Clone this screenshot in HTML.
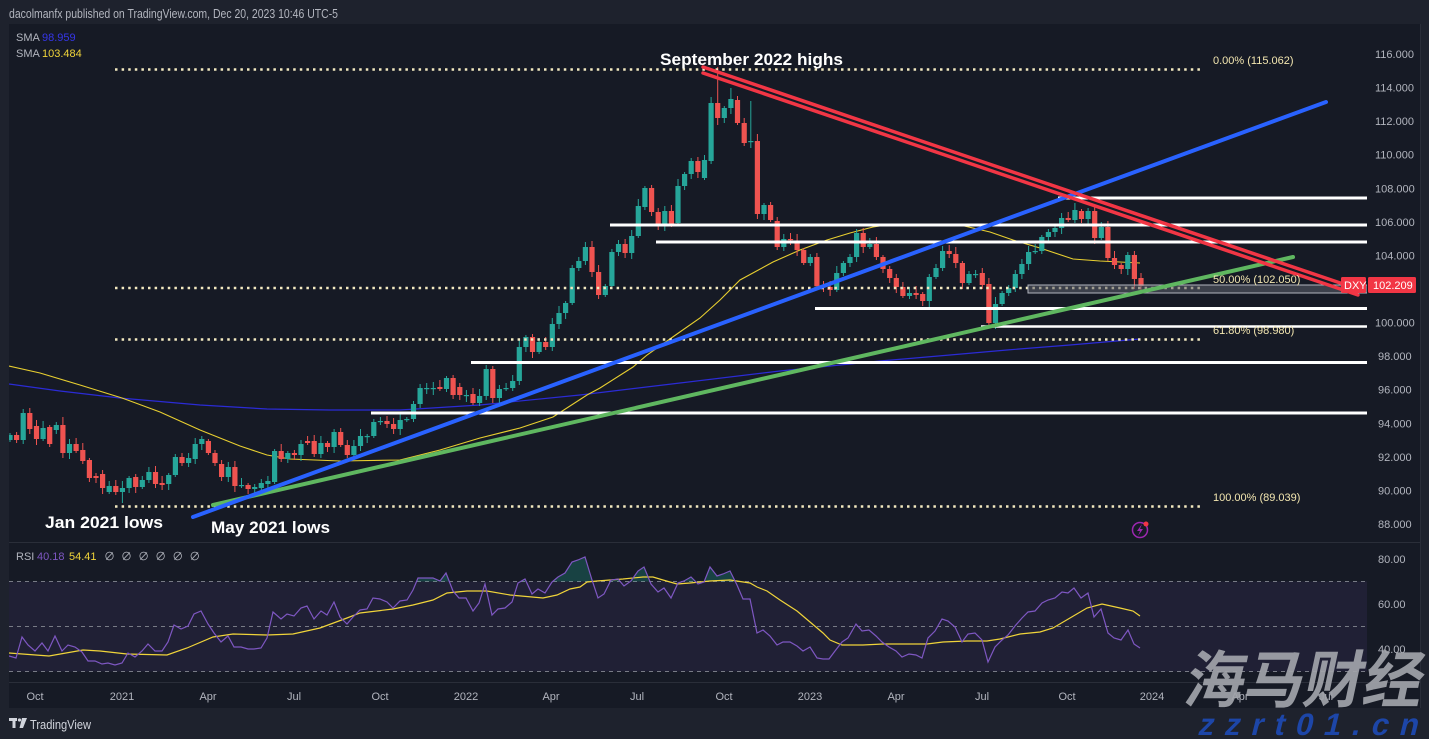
<!DOCTYPE html>
<html><head><meta charset="utf-8"><style>
html,body{margin:0;padding:0;background:#1e222d;width:1429px;height:739px;overflow:hidden}
svg{display:block}
text{font-family:"Liberation Sans","Noto Sans CJK SC",sans-serif}
</style></head><body>
<svg id="s" width="1429" height="739" viewBox="0 0 1429 739" xmlns="http://www.w3.org/2000/svg">
<defs>
<clipPath id="cm"><rect x="9" y="24" width="1358" height="518"/></clipPath>
<clipPath id="cr"><rect x="9" y="543" width="1358" height="139"/></clipPath>
<clipPath id="c70"><rect x="9" y="543" width="1358" height="38.5"/></clipPath>
</defs>
<rect x="0" y="0" width="1429" height="739" fill="#1e222d"/>
<text x="9" y="18" font-size="13" fill="#b2b5be" textLength="329" lengthAdjust="spacingAndGlyphs">dacolmanfx published on TradingView.com, Dec 20, 2023 10:46 UTC-5</text>
<rect x="9" y="24" width="1411" height="684" fill="#161a25"/>
<line x1="9" y1="542.5" x2="1420" y2="542.5" stroke="#2a2e39" stroke-width="1"/>
<line x1="9" y1="682.5" x2="1420" y2="682.5" stroke="#2a2e39" stroke-width="1"/>
<line x1="1420.5" y1="24" x2="1420.5" y2="708" stroke="#2a2e39" stroke-width="1"/>

<!-- RSI pane -->
<rect x="9" y="581.5" width="1358" height="90" fill="#7e57c2" fill-opacity="0.1"/>
<g stroke="#787b86" stroke-width="1" stroke-dasharray="4 4" fill="none">
<line x1="9" y1="581.5" x2="1367" y2="581.5"/>
<line x1="9" y1="626.5" x2="1367" y2="626.5"/>
<line x1="9" y1="671.5" x2="1367" y2="671.5"/>
</g>
<g clip-path="url(#cr)">
<polygon id="rsifill" clip-path="url(#c70)" fill="#22ab94" fill-opacity="0.28" points=""/>
<polyline fill="none" stroke="#f0d43a" stroke-width="1.2" points="9,653 49,656 83,650 100,651 127,654 167,655 187,648 213,637 233,634 267,635 293,634 320,628 347,618 360,613 393,609 413,605 433,600 447,593 467,591 487,591 510,595 543,598 557,595 570,589 580,587 587,582 597,581 623,579 643,577 653,577 663,580 677,584 690,583 710,581 730,580 750,583 757,587 767,591 780,600 797,611 810,622 823,633 830,640 842,645 863,645 883,644 903,644 927,644 943,642 967,641 987,641 1000,639 1020,634 1040,632 1053,628 1070,618 1087,608 1102,604 1120,608 1133,611 1140,616"/>
<polyline id="rsi" fill="none" stroke="#7e57c2" stroke-width="1.2" points="9,656 16,658 22,637 28,645 35,651 42,643 48,651 55,636 62,651 68,645 75,647 82,652 88,661 95,661 102,664 108,663 115,665 122,663 128,653 135,657 142,651 148,644 155,651 162,651 168,642 174,625 181,629 188,626 194,614 201,611 208,624 214,633 221,642 228,636 234,647 241,647 248,649 254,649 261,648 267,638 273,612 281,619 287,614 294,616 301,608 307,606 314,619 321,611 327,615 334,602 340,617 347,624 353,617 360,610 367,609 373,598 380,599 387,602 393,608 400,601 407,600 413,590 418,578 426,578 433,578 440,581 446,573 453,591 459,598 466,598 473,611 479,603 485,584 492,615 498,609 505,608 512,602 518,583 525,579 532,594 538,589 545,593 552,582 558,577 565,573 572,562 578,560 585,557 592,580 598,598 604,594 611,580 618,579 624,586 631,581 638,571 644,567 651,584 658,592 664,588 671,598 678,583 684,581 691,577 698,584 704,582 710,567 717,576 723,574 730,571 737,585 743,599 750,599 757,633 763,630 770,636 777,645 783,642 790,642 797,646 803,651 810,647 817,658 823,659 829,659 835,651 842,642 848,638 856,624 862,631 869,630 876,636 882,642 889,647 896,651 902,657 909,654 916,655 922,658 928,638 935,631 942,619 948,621 955,627 962,642 968,634 975,633 982,640 988,662 995,647 1002,640 1008,635 1015,626 1022,618 1028,612 1035,611 1042,603 1048,600 1055,598 1062,592 1068,593 1074,588 1081,598 1088,593 1094,617 1101,609 1108,633 1114,638 1121,640 1128,630 1134,644 1140,648"/>
</g>
<text x="16" y="560" font-size="11" fill="#b2b5be">RSI</text>
<text x="37" y="560" font-size="11" fill="#7e57c2">40.18</text>
<text x="69" y="560" font-size="11" fill="#f0d43a">54.41</text>
<text x="104" y="560" font-size="11" fill="#b2b5be" word-spacing="3">∅ ∅ ∅ ∅ ∅ ∅</text>

<!-- main pane -->
<g clip-path="url(#cm)">
<polyline fill="none" stroke="#2b2bd6" stroke-width="1.2" points="9,384 60,391 120,398 200,405 267,409 330,410 400,410 480,405 580,395 680,383 780,371 880,361 950,355 1007,350 1070,345 1140,339"/>
<polyline fill="none" stroke="#e8cf30" stroke-width="1.1" points="9,366 40,373 80,385 122,398 160,412 200,430 240,446 267,455 290,459 340,461 400,460 440,450 480,438 520,428 553,417 587,395 600,388 633,367 647,355 677,334 700,318 720,300 740,280 773,262 800,250 827,240 850,233 873,227 893,224 920,224 940,224 960,225 990,232 1013,240 1040,248 1073,259 1100,261 1140,263"/>
<g id="candles"></g>
<!-- fib dotted -->
<g stroke="#f3e9c0" stroke-width="2.5" stroke-dasharray="2.5 4.1" fill="none">
<line x1="115" y1="69.5" x2="1202" y2="69.5"/>
<line x1="115" y1="288" x2="1202" y2="288"/>
<line x1="115" y1="339.5" x2="1202" y2="339.5"/>
<line x1="115" y1="506.5" x2="1202" y2="506.5"/>
</g>
<!-- grey box -->
<rect x="1028" y="285" width="339" height="8" fill="#5d606b" fill-opacity="0.55" stroke="#b2b5be" stroke-width="1"/>
<!-- white horizontal -->
<g stroke="#ffffff" stroke-width="3">
<line x1="1058" y1="198" x2="1367" y2="198"/>
<line x1="610" y1="225" x2="1367" y2="225"/>
<line x1="656" y1="242" x2="1367" y2="242"/>
<line x1="815" y1="308.5" x2="1367" y2="308.5"/>
<line x1="981" y1="326.5" x2="1367" y2="326.5" stroke-width="2.5"/>
<line x1="471" y1="362.5" x2="1367" y2="362.5"/>
<line x1="371" y1="413" x2="1367" y2="413"/>
</g>
<!-- trendlines -->
<line x1="213" y1="505" x2="1293" y2="257" stroke="#5fb760" stroke-width="4" stroke-linecap="round"/>
<line x1="193" y1="517" x2="1326" y2="102" stroke="#2962ff" stroke-width="4" stroke-linecap="round"/>
<line x1="703" y1="67" x2="1358" y2="289" stroke="#f23645" stroke-width="3.5" stroke-linecap="round"/>
<line x1="703" y1="73" x2="1358" y2="295" stroke="#f23645" stroke-width="3.5" stroke-linecap="round"/>
</g>

<!-- fib labels -->
<g font-size="11" fill="#f3e6b0">
<text x="1213" y="64">0.00% (115.062)</text>
<text x="1213" y="283">50.00% (102.050)</text>
<text x="1213" y="334">61.80% (98.980)</text>
<text x="1213" y="501">100.00% (89.039)</text>
</g>

<!-- annotations -->
<g font-size="17" font-weight="bold" fill="#ffffff">
<text x="660" y="65" textLength="183" lengthAdjust="spacingAndGlyphs">September 2022 highs</text>
<text x="45" y="528" textLength="118" lengthAdjust="spacingAndGlyphs">Jan 2021 lows</text>
<text x="211" y="533" textLength="119" lengthAdjust="spacingAndGlyphs">May 2021 lows</text>
</g>

<!-- legend -->
<text x="16" y="41" font-size="11" fill="#b2b5be">SMA</text>
<text x="42" y="41" font-size="11" fill="#3636e8">98.959</text>
<text x="16" y="57" font-size="11" fill="#b2b5be">SMA</text>
<text x="42" y="57" font-size="11" fill="#f0d43a">103.484</text>

<!-- price axis -->
<g font-size="11" fill="#b2b5be">
<text x="1375" y="58">116.000</text>
<text x="1375" y="91.6">114.000</text>
<text x="1375" y="125.1">112.000</text>
<text x="1375" y="158.7">110.000</text>
<text x="1375" y="192.3">108.000</text>
<text x="1375" y="225.9">106.000</text>
<text x="1375" y="259.4">104.000</text>
<text x="1375" y="326.6">100.000</text>
<text x="1378" y="360.1">98.000</text>
<text x="1378" y="393.7">96.000</text>
<text x="1378" y="427.3">94.000</text>
<text x="1378" y="460.9">92.000</text>
<text x="1378" y="494.4">90.000</text>
<text x="1378" y="528">88.000</text>
<text x="1378" y="563">80.00</text>
<text x="1378" y="608">60.00</text>
<text x="1378" y="653">40.00</text>
</g>
<rect x="1341" y="277" width="25" height="16" rx="1.5" fill="#f23645"/>
<text x="1344" y="289" font-size="11" fill="#ffffff">DXY</text>
<rect x="1368" y="277" width="48" height="16" rx="1.5" fill="#f23645"/>
<text x="1373" y="289" font-size="11" fill="#ffffff">102.209</text>

<!-- lightning icon -->
<circle cx="1140" cy="530" r="7.5" fill="none" stroke="#9c27b0" stroke-width="1.5"/>
<path d="M1142 524 L1137 531 L1140 531 L1138 536 L1143 529 L1140 529 Z" fill="#9c27b0"/>
<circle cx="1146" cy="524" r="2.5" fill="#f23645"/>

<!-- time axis -->
<g font-size="11" fill="#b2b5be" text-anchor="middle">
<text x="35" y="700">Oct</text>
<text x="122" y="700">2021</text>
<text x="208" y="700">Apr</text>
<text x="294" y="700">Jul</text>
<text x="380" y="700">Oct</text>
<text x="466" y="700">2022</text>
<text x="551" y="700">Apr</text>
<text x="637" y="700">Jul</text>
<text x="724" y="700">Oct</text>
<text x="810" y="700">2023</text>
<text x="896" y="700">Apr</text>
<text x="982" y="700">Jul</text>
<text x="1067" y="700">Oct</text>
<text x="1152" y="700">2024</text>
<text x="1240" y="700">Apr</text>
<text x="1326" y="700">Jul</text>
</g>

<!-- footer logo -->
<rect x="9" y="718" width="8" height="3" fill="#d1d4dc"/>
<rect x="12.5" y="718" width="3" height="10" fill="#d1d4dc"/>
<circle cx="19.5" cy="720" r="1.6" fill="#d1d4dc"/>
<polygon points="22,718 27,718 23,728 19.5,728" fill="#d1d4dc"/>
<text x="30" y="729" font-size="13" fill="#d1d4dc" textLength="61" lengthAdjust="spacingAndGlyphs">TradingView</text>

<!-- watermark -->
<g transform="translate(1182,702) skewX(-12)">
<text x="0" y="0" font-size="62" font-weight="bold" fill="#a2a4aa" fill-opacity="0.92" textLength="238" lengthAdjust="spacingAndGlyphs" style="font-family:'Noto Sans CJK SC','WenQuanYi Zen Hei',sans-serif">海马财经</text>
</g>
<g transform="translate(1197,735) skewX(-14)">
<text x="0" y="0" font-size="31" font-weight="bold" fill="#1d46a8" textLength="220" lengthAdjust="spacing">zzrt01.cn</text>
</g>
</svg>
<script>
(function(){
var D=[[440,435],[435,440],[440,413],[413,429],[426,439],[439,428],[427,444],[430,425],[425,453],[453,444],
[444,451],[450,461],[460,478],[476,478],[474,488],[492,486],[486,492],[492,488],[488,478],[477,487],
[487,480],[480,472],[472,484],[483,485],[484,475],[475,457],[457,463],[463,458],[459,444],[444,439],
[441,453],[453,463],[464,477],[477,467],[467,486],[486,485],[485,489],[489,487],[488,483],[484,481],
[482,451],[451,459],[459,453],[453,455],[455,444],[441,443],[441,454],[454,443],[443,447],[447,432],
[432,445],[445,455],[455,446],[446,436],[437,436],[436,422],[422,421],[421,424],[424,429],[429,420],
[420,419],[419,404],[404,388],[389,388],[389,388],[387,389],[389,378],[378,395],[387,395],[396,395],
[394,403],[403,396],[396,369],[369,398],[398,389],[389,388],[388,381],[381,347],[347,337],[337,352],
[352,342],[342,347],[347,324],[324,313],[313,303],[303,268],[268,261],[261,247],[247,272],[272,295],
[295,286],[286,252],[252,244],[244,253],[253,236],[236,206],[207,188],[188,212],[212,225],[225,211],
[211,225],[223,186],[186,174],[174,161],[161,172],[178,160],[161,103],[103,118],[118,108],[108,99],
[100,123],[123,143],[142,141],[141,214],[214,205],[205,220],[221,247],[247,239],[239,240],[241,250],
[250,263],[263,257],[257,286],[286,287],[287,290],[290,273],[273,263],[263,257],[257,233],[233,247],
[247,244],[244,257],[257,269],[269,278],[278,287],[287,296],[296,293],[293,295],[294,301],[301,277],
[277,268],[268,251],[251,254],[254,263],[263,283],[283,274],[275,274],[273,285],[284,323],[323,304],
[304,293],[293,288],[288,274],[274,264],[264,252],[252,251],[251,237],[237,232],[232,228],[228,218],
[218,220],[220,210],[211,219],[219,211],[211,238],[238,227],[227,258],[258,265],[265,269],[269,255],
[255,279],[278,286]];
var ov={8:[417,0],29:[436,0],17:[0,503],36:[0,494],40:[449,0],72:[365,0],73:[0,403],89:[0,299],106:[97,0],107:[67,125],109:[88,0],112:[101,148],148:[0,327],170:[0,289],171:[0,292]};
var NS='http://www.w3.org/2000/svg';
var g=document.getElementById('candles');
for(var i=0;i<D.length;i++){
 var x=10+i*6.614,o=D[i][0],c=D[i][1];
 var col=(c<o||(c==o&&i%2==0))?'#26a69a':'#ef5350';
 var t=Math.min(o,c),b=Math.max(o,c);
 var hi=t-(2+(i*7)%6),lo=b+(2+(i*11)%5);
 if(ov[i]){if(ov[i][0])hi=ov[i][0];if(ov[i][1])lo=ov[i][1];}
 var l=document.createElementNS(NS,'line');
 l.setAttribute('x1',x.toFixed(1));l.setAttribute('x2',x.toFixed(1));
 l.setAttribute('y1',hi);l.setAttribute('y2',lo);
 l.setAttribute('stroke',col);l.setAttribute('stroke-width','1');
 g.appendChild(l);
 var r=document.createElementNS(NS,'rect');
 r.setAttribute('x',(x-2.6).toFixed(1));r.setAttribute('y',t);
 r.setAttribute('width','5.2');r.setAttribute('height',Math.max(b-t,1.2));
 r.setAttribute('fill',col);
 g.appendChild(r);
}
// RSI fill above 70
var pts=document.getElementById('rsi').getAttribute('points');
document.getElementById('rsifill').setAttribute('points','9,581.5 '+pts+' 1140,581.5');
})();
</script>
</body></html>
